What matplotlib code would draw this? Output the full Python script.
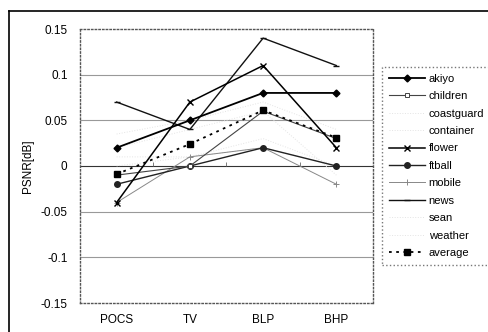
import numpy as np
import matplotlib.pyplot as plt
from matplotlib.lines import Line2D

plt.rcParams['font.family'] = ['Liberation Sans', 'DejaVu Sans']

methods = ['POCS', 'TV', 'BLP', 'BHP']
akiyo = [0.02, 0.05, 0.08, 0.08]
children = [-0.01, 0.0, 0.06, 0.03]
coastguard = [0.035, 0.05, 0.07, 0.04]
container = [0.01, 0.01, 0.02, 0.0]
flower = [-0.04, 0.07, 0.11, 0.02]
ftball = [-0.02, 0.0, 0.02, 0.0]
mobile = [-0.04, 0.01, 0.02, -0.02]
news = [0.07, 0.04, 0.14, 0.11]
sean = [0.0, 0.01, 0.03, 0.0]
weather = [0.02, 0.04, 0.06, -0.01]
average = [-0.009, 0.024, 0.061, 0.031]
yticks = [-0.15, -0.1, -0.05, 0, 0.05, 0.1, 0.15]
ytick_labels = ['-0.15', '-0.1', '-0.05', '0', '0.05', '0.1', '0.15']

fig = plt.figure(figsize=(4.89, 3.32), dpi=100)
ax = fig.add_axes([80 / 489, 29 / 332, 293 / 489, 274 / 332])
x = np.arange(len(methods))

# grid lines
for v in yticks[1:-1]:
    ax.axhline(v, color='#333333' if v == 0 else '#999999', lw=0.8, zorder=1)
ax.vlines(x[:-1] + 0.5, 0, 0.004, color='#666666', lw=0.6, zorder=1)

light = dict(color='#e4e4e4', lw=0.7, ls=':')
ax.plot(x, coastguard, label='coastguard', **light)
ax.plot(x, container, label='container', **light)
ax.plot(x, sean, label='sean', **light)
ax.plot(x, weather, label='weather', **light)

ax.plot(x, mobile, color='#888888', lw=0.7, marker='+', ms=5, mew=0.7, label='mobile')
ax.plot(x, ftball, color='#222222', lw=1.0, marker='o', ms=4, label='ftball')
ax.plot(x, children, color='#444444', lw=0.8, marker='s', ms=3.5, mfc='white', mew=0.7, label='children')
ax.plot(x, news, color='#111111', lw=1.0, marker='_', ms=5, label='news')
ax.plot(x, flower, color='black', lw=1.1, marker='x', ms=5, mew=1.0, label='flower')
ax.plot(x, akiyo, color='black', lw=1.3, marker='D', ms=3.5, label='akiyo')
ax.plot(x, average, color='black', lw=1.3, ls=(0, (1.5, 2.5)), marker='s', ms=5, label='average')

ax.set_xlim(-0.5, len(methods) - 0.5)
ax.set_ylim(-0.15, 0.15)
ax.set_xticks(x)
ax.set_xticklabels(methods, fontsize=8.5)
ax.set_yticks(yticks)
ax.set_yticklabels(ytick_labels, fontsize=8.5)
ax.tick_params(length=0, pad=8)
ax.tick_params(axis='y', pad=9)
ax.set_ylabel('PSNR[dB]', fontsize=8.5, labelpad=5)
for s in ax.spines.values():
    s.set_linestyle(':')
    s.set_color('#555555')
    s.set_linewidth(1.0)

order = ['akiyo', 'children', 'coastguard', 'container', 'flower', 'ftball',
         'mobile', 'news', 'sean', 'weather', 'average']
handles, labels = ax.get_legend_handles_labels()
hmap = dict(zip(labels, handles))
leg = fig.legend([hmap[k] for k in order], order, loc='upper left',
                 bbox_to_anchor=(382 / 489, 1 - 67 / 332), fontsize=8,
                 frameon=True, fancybox=False, handlelength=3.3, handletextpad=0.3,
                 labelspacing=0.67, borderpad=0.6, borderaxespad=0)
frame = leg.get_frame()
frame.set_edgecolor('#555555')
frame.set_linestyle(':')
frame.set_linewidth(1.0)

# outer frame
fig.add_artist(Line2D([9 / 489, 9 / 489], [0, 1 - 10.5 / 332], color='black', lw=1.2))
fig.add_artist(Line2D([9 / 489, 1], [1 - 10.5 / 332, 1 - 10.5 / 332], color='black', lw=1.2))

fig.savefig('out.png', dpi=100)
